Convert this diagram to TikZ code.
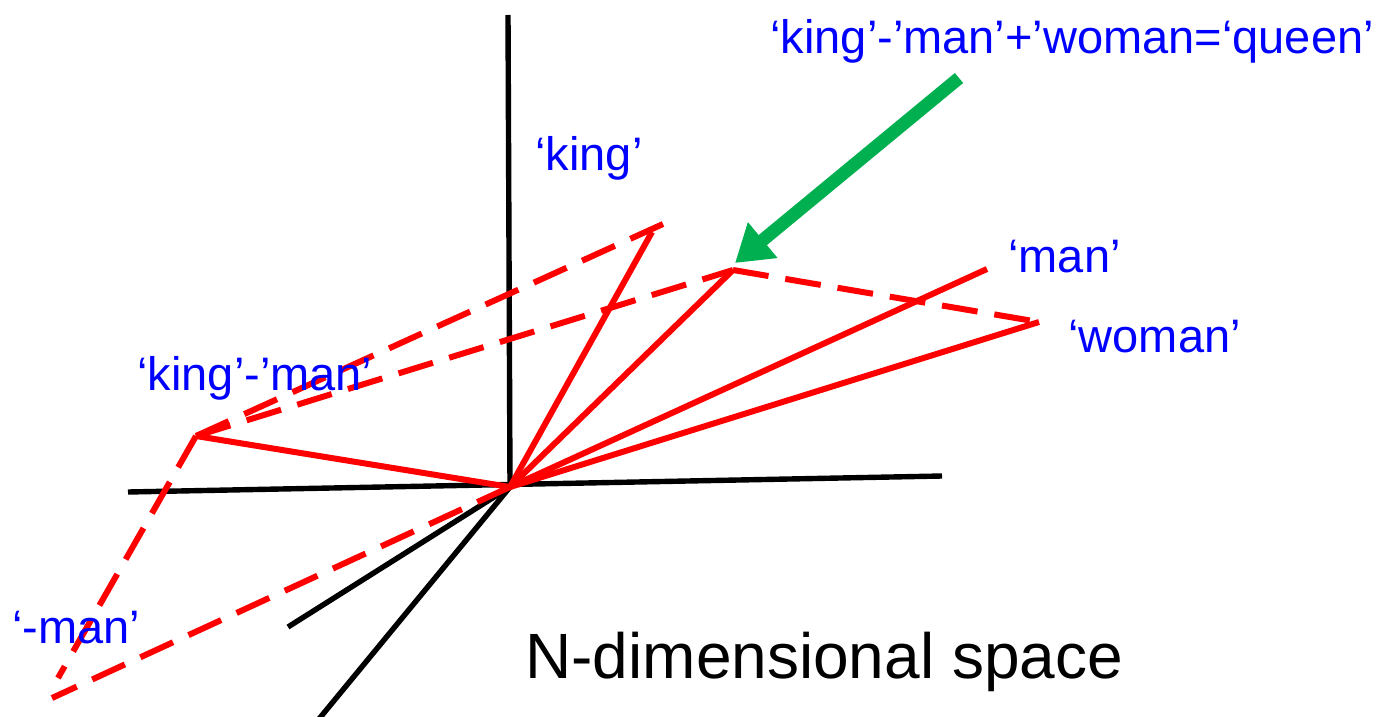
\documentclass[tikz,border=0pt]{standalone}
\usepackage{fontspec}
\setmainfont{Liberation Sans}
\usetikzlibrary{arrows.meta}
\definecolor{vred}{RGB}{255,0,0}
\definecolor{vblue}{RGB}{0,0,255}
\definecolor{vgreen}{RGB}{0,176,80}
\begin{document}
\begin{tikzpicture}[x=0.5pt,y=-0.5pt,
  axis/.style={line width=2.7pt,black},
  vec/.style={line width=3pt,vred},
  dvec/.style={vec,dash pattern=on 18pt off 8.5pt},
  lbl/.style={anchor=base west,inner sep=0,text=vblue,font=\fontsize{23.5}{28}\selectfont},
  big/.style={anchor=base west,inner sep=0,text=black,font=\fontsize{32}{38}\selectfont},
  pointer/.style={line width=6.5pt,vgreen,-{Triangle[length=18pt,width=22pt]}}
]
\useasboundingbox (0,0) rectangle (1386,717);
\clip (0,0) rectangle (1386,717);
% coordinates
\coordinate (O) at (510,487);
\coordinate (ytop) at (508,15);
\coordinate (xl) at (128,492);
\coordinate (xr) at (942,476);
\coordinate (z1) at (288,627);
\coordinate (z2) at (314,725);
\coordinate (king) at (652,232);
\coordinate (kingd) at (663,224);
\coordinate (queen) at (733,270);
\coordinate (man) at (987,269);
\coordinate (woman) at (1039,322);
\coordinate (km) at (196,436);
\coordinate (nm1) at (58,678);
\coordinate (nm2) at (52,698);
\coordinate (gs) at (959,78);
\coordinate (gt) at (735,263);
% axes
\draw[axis] (O) -- (ytop);
\draw[axis] (xl) -- (xr);
\draw[axis] (O) -- (z1);
\draw[axis] (O) -- (z2);
% vectors
\draw[vec] (O) -- (king);
\draw[vec] (O) -- (queen);
\draw[vec] (O) -- (man);
\draw[vec] (O) -- (woman);
\draw[vec] (O) -- (km);
\draw[dvec] (km) -- (kingd);
\draw[dvec] (km) -- (queen);
\draw[dvec] (queen) -- (woman);
\draw[dvec] (km) -- (nm1);
\draw[dvec] (O) -- (nm2);
% arrow
\draw[pointer] (gs) -- (gt);
% labels
\node[lbl] (tking) at (535,170) {‘king’};
\node[lbl] (tq) at (770,54) {‘king’-’man’+’woman=‘queen’};
\node[lbl] (tman) at (1008,272) {‘man’};
\node[lbl] (twoman) at (1068,352) {‘woman’};
\node[lbl] (tkm) at (137,390) {‘king’-’man’};
\node[lbl] (tnm) at (12,643) {‘-man’};
\node[big] (tn) at (525,678) {N-dimensional space};
\end{tikzpicture}
\end{document}
